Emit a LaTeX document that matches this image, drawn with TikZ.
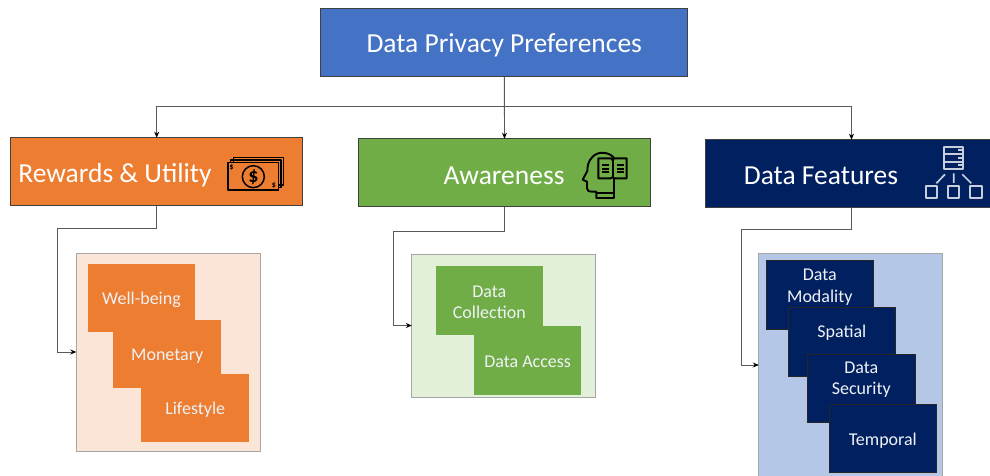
\documentclass[tikz,border=0pt]{standalone}
\usepackage{fontspec}
\setmainfont{Carlito}
\usetikzlibrary{arrows.meta,calc}
\definecolor{cblue}{HTML}{4472C4}
\definecolor{corange}{HTML}{ED7D31}
\definecolor{cgreen}{HTML}{70AD47}
\definecolor{cnavy}{HTML}{002060}
\definecolor{porange}{HTML}{FBE5D6}
\definecolor{pgreen}{HTML}{E2F0D9}
\definecolor{pblue}{HTML}{B4C7E7}
\definecolor{edge}{HTML}{404040}
\tikzset{
  mainbox/.style={draw=edge,line width=.9pt,inner sep=0pt,outer sep=0pt,minimum width=292pt,minimum height=68pt},
  panel/.style={draw=black!35,line width=.8pt,inner sep=0pt,outer sep=0pt,minimum width=184pt},
  subbox/.style={inner sep=0pt,outer sep=0pt,minimum width=107.5pt,minimum height=68.5pt},
  osub/.style={subbox,fill=corange},
  gsub/.style={subbox,fill=cgreen},
  nsub/.style={subbox,fill=cnavy,draw=black!85,line width=.8pt},
  headtext/.style={text=white,font=\fontsize{27.5}{30}\selectfont,inner sep=0pt},
  subtext/.style={text=white!94!cnavy,font=\fontsize{18}{21.5}\selectfont,align=center,inner sep=0pt},
  conn/.style={draw=black!65,line width=.8pt,-{Stealth[length=6pt,width=5pt,color=black]}},
  icon/.style={line width=1.5pt,line join=round}
}
\begin{document}
\begin{tikzpicture}[x=1pt,y=-1pt]
\useasboundingbox (0,0) rectangle (990,476);
\clip (0,0) rectangle (990,476);
% main boxes
\node[mainbox,fill=cblue,minimum width=367pt] (top) at (504.2,42.7) {};
\node[mainbox,fill=corange] (rew) at (156.7,171.7) {};
\node[mainbox,fill=cgreen] (awa) at (504.5,172.7) {};
\node[mainbox,fill=cnavy] (fea) at (851.5,173.7) {};
\node[headtext] (topt) at ($(top)+(0,2.8)$) {Data Privacy Preferences};
\node[headtext] (rewt) at (115,175) {Rewards \& Utility};
\node[headtext] (awat) at (504,176) {Awareness};
\node[headtext] (feat) at (821,176) {Data Features};
% panels
\node[panel,fill=porange,minimum height=198pt] (p1) at (168.3,352) {};
\node[panel,fill=pgreen,minimum height=143pt] (p2) at (503.8,325.5) {};
\node[panel,fill=pblue,minimum height=224pt] (p3) at (850.8,365) {};
% orange
\node[osub] (wb) at (141.5,298) {};
\node[osub] (mo) at (167.2,354) {};
\node[osub] (li) at (195.2,408) {};
\node[subtext] (wbt) at ($(wb)+(0,2)$) {Well-being};
\node[subtext] (mot) at ($(mo)+(0,2)$) {Monetary};
\node[subtext] (lit) at ($(li)+(0,2)$) {Lifestyle};
% green
\node[gsub] (dc) at (489.3,300.7) {};
\node[gsub] (da) at (527.6,360.7) {};
\node[subtext] (dct) at ($(dc)+(0,1.5)$) {Data\\Collection};
\node[subtext] (dat) at ($(da)+(0,1.5)$) {Data Access};
% navy
\node[nsub] (dm) at (819.8,295) {};
\node[subtext] (dmt) at ($(dm)+(0,-8)$) {Data\\Modality};
\node[nsub] (sp) at (841.8,342) {};
\node[subtext] (spt) at ($(sp)+(0,-9.5)$) {Spatial};
\node[nsub] (ds) at (861.3,388.3) {};
\node[subtext] (dst) at ($(ds)+(0,-8.5)$) {Data\\Security};
\node[nsub] (te) at (882.8,438.2) {};
\node[subtext] (tet) at ($(te)+(0,2)$) {Temporal};
% connectors
\draw[conn] (top.south) -- ++(0,30) -| (rew.north);
\draw[conn] (top.south) -- (awa.north);
\draw[conn] (top.south) -- ++(0,30) -| (fea.north);
\draw[conn] (rew.south) -- ++(0,23) -| ($(p1.west)+(-19,0)$) -- (p1.west);
\draw[conn] (awa.south) -- ++(0,25) -| ($(p2.west)+(-18,0)$) -- (p2.west);
\draw[conn] (fea.south) -- ++(0,22) -| ($(p3.west)+(-17,0)$) -- (p3.west);
% money icon
\begin{scope}[shift={(200,130)},x=.3333pt,y=-.3333pt,icon,draw=black]
  \draw (100,97) -- (100,82) -- (250,82) -- (250,165) -- (236,165);
  \draw (92,97) -- (92,90) -- (243,90) -- (243,172) -- (236,172);
  \draw (84,97) rectangle (236,180);
  \draw (160,140) circle (33);
  \node[text=black,inner sep=0pt,font=\fontsize{20}{20}\bfseries\selectfont] at (160,140) {\$};
  \node[text=black,inner sep=0pt,font=\fontsize{8}{8}\bfseries\selectfont] at (95,112) {\$};
  \node[text=black,inner sep=0pt,font=\fontsize{8}{8}\bfseries\selectfont] at (222,165) {\$};
\end{scope}
% head icon
\begin{scope}[shift={(570,135)},x=.3333pt,y=-.3333pt,icon,draw=black,line width=1.9pt]
  \draw (132,68) .. controls (115,50) and (85,48) .. (68,65)
        .. controls (55,78) and (52,92) .. (52,108)
        -- (38,134) -- (51,140) -- (51,160)
        .. controls (51,168) and (58,171) .. (66,170)
        -- (79,170) -- (79,189) -- (132,189) -- (132,130);
  \draw (79,175) -- (132,175);
  \draw (85,70) -- (124,70) -- (128,76) -- (132,70) -- (170,70) -- (170,130) -- (134,130) -- (128,127) -- (122,130) -- (85,130) -- cycle;
  \draw (128,76) -- (128,127);
  \draw (95,90) -- (117,90) (95,101) -- (117,101) (95,112) -- (117,112);
  \draw (140,90) -- (161,90) (140,101) -- (161,101) (140,112) -- (161,112);
\end{scope}
% network icon
\begin{scope}[shift={(910,135)},x=.3333pt,y=-.3333pt,icon,draw=white!78!cnavy,line width=1.7pt]
  \draw (102,35) rectangle (160,103);
  \draw (102,57) -- (160,57) (102,80) -- (160,80);
  \draw (144,46) -- (156,46) (144,68) -- (156,68) (144,91) -- (156,91);
  \draw (105,118) -- (79,145) (131,115) -- (131,144) (157,118) -- (184,145);
  \draw (48,152) rectangle (81,188);
  \draw (114,152) rectangle (148,188);
  \draw (179,152) rectangle (215,188);
\end{scope}
\end{tikzpicture}
\end{document}
